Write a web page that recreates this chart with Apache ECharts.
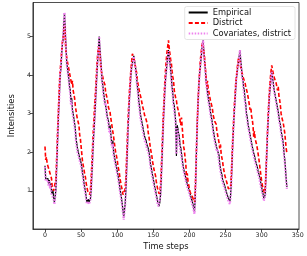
<!DOCTYPE html>
<html><head><meta charset="utf-8">
<script src="https://cdn.jsdelivr.net/npm/echarts@6/dist/echarts.min.js"></script>
<style>html,body{margin:0;padding:0;background:#fff}#c{width:307px;height:256px}</style>
</head><body><div id="c"></div>
<script>
const xTicks = [0, 50, 100, 150, 200, 250, 300, 350];
const yTicks = [1, 2, 3, 4, 5];
const seriesNames = ['Empirical', 'District', 'Covariates, district'];

const empirical = [
1.65,1.30,1.35,1.25,1.32,1.18,1.28,1.12,1.20,0.98,
0.92,1.02,0.82,0.70,0.66,1.00,1.50,2.05,2.60,3.10,
3.50,4.00,4.15,4.50,4.80,4.90,5.30,5.60,5.20,4.75,
4.35,4.40,4.05,3.90,3.70,3.60,3.30,3.40,3.10,3.00,
2.95,2.75,2.60,2.35,2.40,2.10,2.15,2.05,1.85,1.80,
1.72,1.60,1.45,1.35,1.20,1.08,0.98,0.85,0.70,0.68,
0.78,0.70,0.72,0.80,1.05,1.45,1.85,2.30,2.60,2.95,
3.30,3.70,4.05,4.40,4.65,5.00,4.70,4.45,4.20,3.85,
3.75,3.55,3.60,3.30,3.35,3.10,2.95,3.00,2.80,2.60,
2.70,2.50,2.30,2.20,2.30,2.00,1.90,1.85,1.70,1.62,
1.50,1.42,1.30,1.18,1.02,0.92,0.80,0.65,0.50,0.30,
0.50,0.65,1.00,1.50,2.00,2.60,3.00,3.40,3.70,4.00,
4.20,4.30,4.40,4.50,4.48,4.25,4.10,3.90,3.70,3.55,
3.30,3.20,3.00,2.90,2.85,2.70,2.60,2.50,2.40,2.35,
2.30,2.20,2.25,2.10,2.15,1.90,1.70,1.62,1.50,1.40,
1.30,1.20,1.10,1.02,0.92,0.82,0.72,0.66,0.60,0.70,
0.90,1.30,1.80,2.30,2.80,3.20,3.60,3.90,4.10,4.30,
4.50,4.65,4.45,4.32,4.15,3.92,3.68,3.52,3.28,3.22,
3.00,2.80,1.90,2.70,2.62,2.48,2.42,2.18,2.12,1.98,
1.82,1.68,1.65,1.48,1.42,1.32,1.30,1.18,1.17,1.05,
1.02,0.92,0.90,0.78,0.77,0.65,0.62,0.45,0.80,1.50,
2.20,2.80,3.30,3.70,4.00,4.20,4.40,4.60,4.80,4.90,
4.60,4.35,4.15,3.85,3.75,3.55,3.58,3.30,3.22,3.05,
3.02,2.85,2.82,2.58,2.55,2.35,2.38,2.18,2.10,2.15,
1.98,1.92,1.70,1.65,1.48,1.42,1.28,1.30,1.18,1.12,
1.05,1.02,0.92,0.93,0.80,0.76,0.72,0.88,1.20,1.70,
2.20,2.60,3.00,3.30,3.60,3.90,4.05,4.22,4.35,4.50,
4.65,4.38,4.22,3.98,3.92,3.68,3.62,3.38,3.25,3.00,
2.92,2.75,2.72,2.55,2.52,2.35,2.32,2.15,2.12,1.98,
1.92,1.82,1.82,1.68,1.62,1.52,1.50,1.38,1.32,1.18,
1.10,0.98,0.92,0.80,0.75,0.90,1.40,1.90,2.40,2.80,
3.20,3.50,3.70,3.90,4.10,3.95,3.82,3.65,3.62,3.45,
3.42,3.25,3.22,3.05,3.02,2.78,2.72,2.55,2.52,2.35,
2.22,1.98,1.82,1.58,1.30,1.10
];

const district = [
2.15,1.80,1.88,1.70,1.75,1.58,1.62,1.45,1.50,1.32,
1.10,1.15,1.00,0.98,1.05,1.30,1.75,2.30,2.85,3.30,
3.80,4.10,4.35,4.60,4.85,4.80,5.05,5.30,4.95,4.60,
4.55,4.35,4.40,4.15,4.20,3.95,3.98,3.75,3.85,3.60,
3.50,3.40,3.20,3.15,2.95,2.85,2.80,2.70,2.45,2.35,
2.15,1.95,1.75,1.72,1.55,1.42,1.35,1.20,1.10,1.00,
0.95,1.02,0.90,1.05,1.35,1.75,2.20,2.60,2.95,3.30,
3.60,3.95,4.30,4.55,4.75,4.80,4.55,4.25,4.10,4.15,
3.95,3.85,3.90,3.75,3.55,3.60,3.40,3.35,3.15,3.20,
3.05,2.90,2.85,2.65,2.60,2.40,2.25,2.20,1.97,1.90,
1.80,1.65,1.60,1.45,1.30,1.25,1.10,1.02,0.90,0.88,
0.95,1.05,1.35,1.85,2.35,2.85,3.25,3.60,3.90,4.15,
4.35,4.55,4.60,4.45,4.50,4.25,4.30,4.05,3.85,3.90,
3.65,3.55,3.60,3.40,3.35,3.20,3.25,3.05,2.95,3.00,
2.85,2.90,2.70,2.50,2.40,2.25,2.10,2.00,1.90,1.75,
1.65,1.55,1.46,1.40,1.25,1.20,1.05,1.00,0.92,0.98,
1.15,1.55,2.05,2.55,3.05,3.45,3.85,4.15,4.40,4.60,
4.75,4.90,4.70,4.55,4.40,4.30,4.10,3.95,3.85,3.60,
3.50,3.40,3.34,3.20,3.25,3.05,2.95,2.90,2.70,2.90,
2.65,2.40,2.14,2.05,1.85,1.70,1.30,1.45,1.25,1.20,
1.05,0.96,1.00,0.90,0.88,0.80,0.75,0.72,1.00,1.60,
2.25,2.85,3.35,3.75,4.05,4.35,4.55,4.70,4.85,4.75,
4.60,4.45,4.20,4.00,3.66,3.85,3.65,3.70,3.45,3.35,
3.40,3.20,3.10,2.95,3.00,2.80,2.75,2.73,2.55,2.45,
2.40,2.25,2.10,2.20,1.95,1.90,1.75,1.60,1.55,1.40,
1.45,1.38,1.20,1.15,1.05,1.10,1.00,1.10,1.40,1.90,
2.35,2.75,3.15,3.45,3.75,3.95,4.15,4.30,4.45,4.40,
4.35,4.20,4.25,4.05,4.10,3.90,3.95,3.80,3.70,3.75,
3.55,3.50,3.35,3.30,3.10,3.16,2.95,2.85,2.70,2.40,
2.55,2.35,2.40,2.20,2.10,2.05,1.85,1.70,1.55,1.40,
1.25,1.20,1.05,1.00,0.95,1.10,1.50,2.00,2.50,2.95,
3.35,3.65,3.90,4.10,4.25,4.20,4.05,4.10,3.90,3.85,
3.80,3.75,3.60,3.70,3.45,3.35,3.20,3.00,2.90,2.85,
2.75,2.73,2.50,2.30,2.10,1.97
];

const covariates = [
1.62,1.25,1.30,1.22,1.28,1.12,1.25,1.05,1.15,0.92,
0.88,0.95,0.78,0.65,0.62,0.98,1.52,2.05,2.62,3.12,
3.52,4.02,4.18,4.52,4.82,4.95,5.32,5.62,5.15,4.70,
4.30,4.32,4.00,3.85,3.62,3.55,3.22,3.32,3.02,2.90,
2.85,2.65,2.50,2.25,2.30,2.00,2.05,1.95,1.78,1.72,
1.65,1.52,1.40,1.28,1.12,1.02,0.92,0.80,0.66,0.62,
0.72,0.65,0.68,0.78,1.05,1.45,1.85,2.30,2.60,2.95,
3.30,3.72,4.08,4.42,4.68,5.00,4.68,4.40,4.12,3.80,
3.68,3.48,3.52,3.22,3.28,3.02,2.88,2.92,2.72,2.52,
2.62,2.42,2.22,2.12,2.22,1.92,1.82,1.78,1.62,1.55,
1.42,1.35,1.22,1.10,0.95,0.85,0.72,0.58,0.42,0.25,
0.45,0.62,1.00,1.50,2.02,2.60,3.02,3.42,3.72,4.02,
4.22,4.32,4.40,4.48,4.45,4.20,4.02,3.82,3.62,3.45,
3.20,3.10,2.90,2.80,2.75,2.60,2.50,2.40,2.30,2.25,
2.20,2.10,2.15,2.00,2.05,1.82,1.62,1.55,1.42,1.32,
1.22,1.12,1.02,0.95,0.85,0.75,0.66,0.60,0.55,0.65,
0.88,1.30,1.80,2.30,2.80,3.20,3.60,3.90,4.10,4.30,
4.48,4.62,4.42,4.25,4.08,3.85,3.60,3.45,3.20,3.15,
2.92,2.72,1.95,2.62,2.55,2.40,2.35,2.10,2.05,1.90,
1.75,1.60,1.58,1.42,1.35,1.25,1.22,1.10,1.10,0.98,
0.95,0.85,0.82,0.70,0.70,0.58,0.55,0.40,0.78,1.48,
2.20,2.80,3.30,3.70,4.00,4.20,4.40,4.60,4.80,4.90,
4.55,4.30,4.08,3.80,3.68,3.50,3.50,3.22,3.15,2.98,
2.95,2.78,2.75,2.50,2.48,2.28,2.30,2.10,2.02,2.08,
1.90,1.85,1.62,1.58,1.40,1.35,1.22,1.22,1.10,1.05,
0.98,0.95,0.85,0.86,0.74,0.70,0.66,0.84,1.18,1.70,
2.20,2.60,3.00,3.30,3.60,3.90,4.05,4.20,4.35,4.50,
4.65,4.32,4.15,3.92,3.85,3.60,3.55,3.30,3.18,2.92,
2.85,2.68,2.65,2.48,2.45,2.28,2.25,2.08,2.05,1.90,
1.85,1.75,1.75,1.60,1.55,1.45,1.42,1.30,1.25,1.10,
1.02,0.92,0.85,0.74,0.70,0.86,1.38,1.90,2.40,2.80,
3.20,3.50,3.70,3.90,4.08,3.90,3.76,3.60,3.55,3.40,
3.35,3.18,3.15,2.98,2.95,2.72,2.65,2.48,2.45,2.28,
2.15,1.92,1.75,1.52,1.25,1.05
];

const toPairs = arr => arr.map((v, i) => [i, v]);
const font = 'DejaVu Sans';
const chart = echarts.init(document.getElementById('c'), null, {renderer: 'canvas'});
chart.setOption({
  animation: false,
  backgroundColor: '#fff',
  textStyle: {fontFamily: font},
  grid: {left: 20, right: 8, top: 2.5, bottom: 22, show: true, borderColor: '#222', borderWidth: 0.8, containLabel: false},
  xAxis: {
    type: 'value', min: -16.75, max: 351.75,
    name: 'Time steps', nameLocation: 'middle', nameGap: 14,
    nameTextStyle: {fontSize: 8.3, color: '#111', fontFamily: font},
    axisLine: {show: true, onZero: false, lineStyle: {color: '#222', width: 0.8}},
    axisTick: {show: true, length: 3, customValues: xTicks, lineStyle: {color: '#222', width: 0.8}},
    axisLabel: {customValues: xTicks, fontSize: 6.3, color: '#222', margin: 3, fontFamily: font},
    splitLine: {show: false}
  },
  yAxis: {
    type: 'value', min: 0.01, max: 5.88,
    name: 'Intensities', nameLocation: 'middle', nameGap: 15, nameRotate: 90,
    nameTextStyle: {fontSize: 8.3, color: '#111', fontFamily: font},
    axisLine: {show: true, onZero: false, lineStyle: {color: '#222', width: 0.8}},
    axisTick: {show: true, length: 3, customValues: yTicks, lineStyle: {color: '#222', width: 0.8}},
    axisLabel: {customValues: yTicks, fontSize: 6.3, color: '#222', margin: 2, fontFamily: font},
    splitLine: {show: false}
  },
  legend: {
    show: true, orient: 'vertical', right: 12, top: 6.5,
    data: seriesNames,
    backgroundColor: 'rgba(255,255,255,0.8)', borderColor: '#ddd', borderWidth: 0.8, borderRadius: 2,
    padding: [2, 4, 2, 3], itemGap: 2.5, itemWidth: 19, itemHeight: 9,
    itemStyle: {color: 'rgba(0,0,0,0)', borderColor: 'rgba(0,0,0,0)', borderWidth: 0},
    textStyle: {fontSize: 8.3, color: '#111', fontFamily: font}
  },
  series: [
    {name: seriesNames[0], type: 'line', data: toPairs(empirical), symbol: 'none', showSymbol: false,
     lineStyle: {color: '#000', width: 1.2, type: 'solid'}, itemStyle: {color: '#000'}, z: 2},
    {name: seriesNames[1], type: 'line', data: toPairs(district), symbol: 'none', showSymbol: false,
     lineStyle: {color: '#ff0000', width: 1.6, type: [4, 2.2]}, itemStyle: {color: '#ff0000'}, z: 3},
    {name: seriesNames[2], type: 'line', data: toPairs(covariates), symbol: 'none', showSymbol: false,
     lineStyle: {color: '#ee82ee', width: 2.2, type: [1.5, 1.5]}, itemStyle: {color: '#ee82ee'}, z: 4}
  ]
});
</script></body></html>
